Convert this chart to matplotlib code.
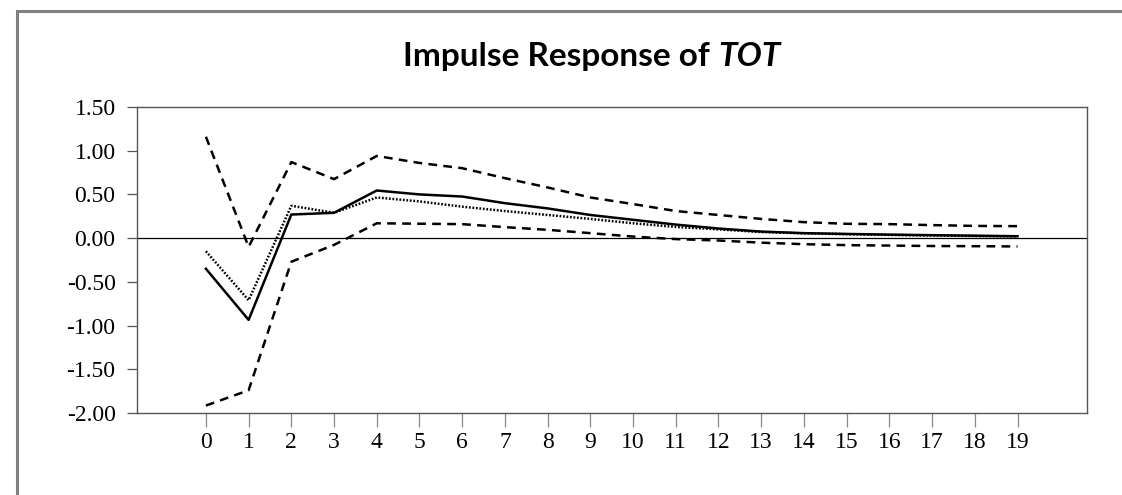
import matplotlib
matplotlib.use("Agg")
import matplotlib.pyplot as plt
from matplotlib.patches import Rectangle

# response periods
periods = list(range(20))

# point estimate (solid) and alternative estimate (dotted)
response = [-0.35, -0.935, 0.27, 0.29, 0.545, 0.50, 0.476, 0.40, 0.34, 0.265,
            0.21, 0.155, 0.11, 0.075, 0.057, 0.048, 0.04, 0.034, 0.028, 0.022]
response_alt = [-0.15, -0.71, 0.37, 0.29, 0.465, 0.42, 0.36, 0.31, 0.265, 0.22,
                0.17, 0.128, 0.10, 0.07, 0.055, 0.045, 0.037, 0.03, 0.024, 0.02]

# confidence bands (dashed)
upper_band = [1.16, -0.10, 0.87, 0.675, 0.94, 0.86, 0.80, 0.686, 0.58, 0.465,
              0.39, 0.31, 0.265, 0.22, 0.183, 0.164, 0.16, 0.149, 0.14, 0.137]
lower_band = [-1.915, -1.74, -0.27, -0.077, 0.17, 0.165, 0.16, 0.126, 0.095, 0.057,
              0.018, -0.011, -0.027, -0.052, -0.069, -0.08, -0.085, -0.09, -0.092, -0.095]

y_ticks = [1.5, 1.0, 0.5, 0.0, -0.5, -1.0, -1.5, -2.0]

fig = plt.figure(figsize=(11.22, 4.95), dpi=100)

# outer frame (only top and left edges show in the picture)
fig.patches.append(Rectangle((17 / 1122, -0.2), 2.0, 1 - 11 / 495 + 0.2,
                             transform=fig.transFigure, fill=False,
                             edgecolor="#808080", linewidth=2.2))

ax = fig.add_axes([136.7 / 1122, 82 / 495, 950 / 1122, 306 / 495])

ax.axhline(0, color="black", linewidth=0.9)
ax.plot(periods, response, color="black", linewidth=1.8, linestyle="-")
ax.plot(periods, response_alt, color="black", linewidth=1.8, linestyle=(0, (0.7, 0.7)))
ax.plot(periods, upper_band, color="black", linewidth=1.8, linestyle=(0, (3.5, 2.5)))
ax.plot(periods, lower_band, color="black", linewidth=1.8, linestyle=(0, (3.5, 2.5)))

ax.set_xlim(-1.62, 20.62)
ax.set_ylim(-2.0, 1.5)
ax.set_xticks(periods)
ax.set_xticklabels([str(p) for p in periods])
ax.set_yticks(y_ticks)
ax.set_yticklabels([f"{v:.2f}" for v in y_ticks])

for s in ax.spines.values():
    s.set_color("#555555")
    s.set_linewidth(1.0)

ax.tick_params(axis="y", direction="out", length=7.2, width=0.9, color="#555555", pad=8)
ax.tick_params(axis="x", direction="out", length=10, width=0.9, color="#888888", pad=4)
for lab in ax.get_xticklabels() + ax.get_yticklabels():
    lab.set_fontfamily("Liberation Serif")
    lab.set_fontsize(17)

# title: plain bold part + bold italic variable name
title_x = 592 / 1122
title_y = 1 - 66 / 495
t1 = fig.text(0, title_y, "Impulse Response of ", ha="left", va="baseline",
              fontsize=24, fontweight="bold", family="Lato")
t2 = fig.text(0, title_y, "TOT", ha="left", va="baseline",
              fontsize=24, fontweight="bold", fontstyle="italic", family="Lato")
renderer = fig.canvas.get_renderer()
w1 = t1.get_window_extent(renderer).width / fig.bbox.width
w2 = t2.get_window_extent(renderer).width / fig.bbox.width
start = title_x - (w1 + w2) / 2
t1.set_x(start)
t2.set_x(start + w1)

fig.savefig("out.png", dpi=100)
